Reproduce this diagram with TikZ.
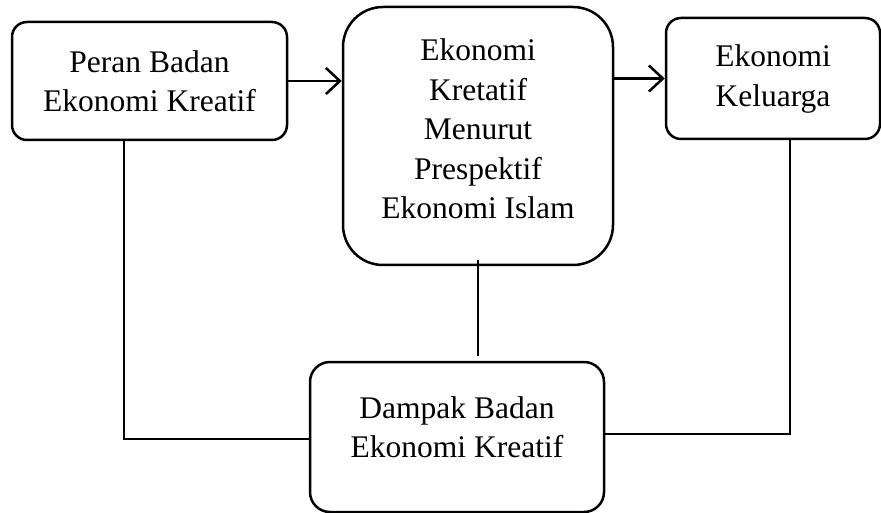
\documentclass[tikz,border=0pt]{standalone}
\usepackage{fontspec}
\setmainfont{Liberation Serif}
\usetikzlibrary{arrows.meta}

\begin{document}
\begin{tikzpicture}[x=1pt, y=-1pt, line width=2.5pt,
        main/.style={rectangle, draw, rounded corners=15pt, align=center, inner sep=0pt, font=\fontsize{31.5}{39.5}\selectfont},
        panah/.style={-{Straight Barb[length=14pt,width=26pt]}}]
        \useasboundingbox (0,0) rectangle (881,513);
        \node[main, minimum width=275pt, minimum height=118pt] (1) at (149.5,81) {Peran Badan\\Ekonomi Kreatif};
        \node[main, rounded corners=40pt, minimum width=270pt, minimum height=258pt, text depth=14pt] (2) at (478,136) {Ekonomi\\Kretatif\\Menurut\\Prespektif\\Ekonomi Islam};
        \node[main, minimum width=214pt, minimum height=121pt, text depth=6pt] (3) at (773,78.5) {Ekonomi\\Keluarga};
        \node[main, rounded corners=20pt, minimum width=294pt, minimum height=150pt, text depth=20pt] (4) at (457,437) {Dampak Badan\\Ekonomi Kreatif};
        \draw[panah] (1.east) -- (1.east -| 2.west);
        \draw[panah] (3.west -| 2.east) -- (3.west);
        \draw ([yshift=6pt]2.south) -- ([yshift=5pt]2.south |- 4.north);
        \draw ([xshift=-25.5pt]1.south) |- ([yshift=-2pt]4.west);
        \draw ([xshift=17pt]3.south) |- ([yshift=3pt]4.east);
    \end{tikzpicture}
\end{document}
